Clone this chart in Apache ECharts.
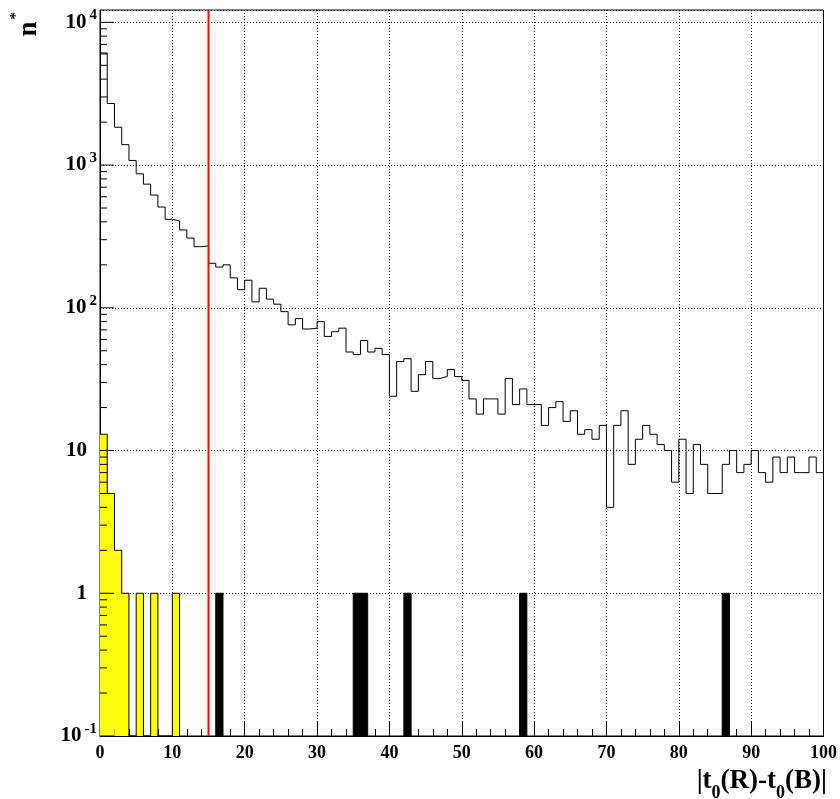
<!DOCTYPE html>
<html>
<head>
<meta charset="utf-8">
<script src="https://cdn.jsdelivr.net/npm/echarts@6.0.0/dist/echarts.min.js"></script>
<style>
html,body{margin:0;padding:0;background:#fff;}
#chart{width:840px;height:799px;}
</style>
</head>
<body>
<div id="chart"></div>
<script>
// ---- data (bins of width 1 from 0 to 100) ----
const allCounts = [
  6100, 2700, 1840, 1390, 1077, 868, 735, 616, 508, 417,
  406, 351, 308, 268, 271, 205, 193, 200, 162, 134,
  156, 110, 137, 115, 106, 94, 76, 84, 71, 72,
  80, 63, 68, 72, 49, 47, 59, 49, 52, 47,
  24, 42, 44, 26, 34, 42, 32, 33, 37, 33,
  31, 23, 18, 23, 23, 18, 32, 21, 27, 21,
  21, 15, 20, 22, 16, 19, 13, 14, 12, 15,
  4, 15, 19, 8, 12, 15, 13, 11, 10, 6,
  12, 5, 11, 8, 5, 5, 8, 10, 7, 8,
  10, 7, 6, 9, 7, 9, 7, 7, 9, 7
];
const passCounts = [13, 5, 2, 1, 0, 1, 0, 1, 0, 0, 1];   // yellow, bins 0..10
const failBins   = [16, 35, 36, 42, 58, 86];              // black filled bins
const failCounts = [1, 1, 1, 1, 1, 1];
const cutValue   = 15;
const xTickValues = [0, 10, 20, 30, 40, 50, 60, 70, 80, 90, 100];
const yDecades    = [0.1, 1, 10, 100, 1000, 10000];
const yMinorMults = [2, 3, 4, 5, 6, 7, 8, 9];

const YMIN = 0.1, YMAX = 12200, BIN = 1;
const FONT = '"Liberation Serif", "Times New Roman", serif';

// derived plotting data
const stepData = allCounts.map((v, i) => [i * BIN, v]);
stepData.push([allCounts.length * BIN, allCounts[allCounts.length - 1]]);

const passFill = [];
passCounts.forEach((v, i) => { if (v > 0) passFill.push([i * BIN, v]); });
const passOutline = passCounts.map((v, i) => [i * BIN, v > 0 ? v : YMIN]);
passOutline.push([passCounts.length * BIN, YMIN]);

const failFill = failBins.map((b, k) => [b, failCounts[k]]);

const yMinor = [];
yDecades.forEach(d => yMinorMults.forEach(m => { const v = d * m; if (v < YMAX) yMinor.push([0, v]); }));
const yMajor = yDecades.map(v => [0, v]);

function rectRender(color, stroke) {
  return function (params, api) {
    const x0 = api.value(0), v = api.value(1);
    const a = api.coord([x0, v]);
    const b = api.coord([x0 + BIN, YMIN]);
    return { type: 'rect', shape: { x: a[0], y: a[1], width: b[0] - a[0], height: b[1] - a[1] },
             style: stroke ? { fill: color, stroke: color, lineWidth: 1 } : { fill: color } };
  };
}
function tickRender(len) {
  return function (params, api) {
    const p = api.coord([api.value(0), api.value(1)]);
    return { type: 'line', shape: { x1: p[0], y1: p[1], x2: p[0] + len, y2: p[1] },
             style: { stroke: '#000', lineWidth: 1 } };
  };
}

const chart = echarts.init(document.getElementById('chart'), null, { renderer: 'canvas' });
chart.setOption({
  animation: false,
  backgroundColor: '#fff',
  grid: { left: 100, right: 13.5, top: 10, bottom: 63, show: true, borderColor: '#000', borderWidth: 1, backgroundColor: 'transparent' },
  xAxis: {
    type: 'value', min: xTickValues[0], max: xTickValues[xTickValues.length - 1], interval: xTickValues[1] - xTickValues[0],
    axisLine: { show: true, lineStyle: { color: '#000', width: 1 } },
    axisTick: { show: true, inside: true, length: 14, lineStyle: { color: '#000' } },
    minorTick: { show: true, splitNumber: 5, length: 7, lineStyle: { color: '#000' } },
    splitLine: { show: true, lineStyle: { color: '#000', type: [1, 2], width: 1 } },
    axisLabel: { color: '#000', fontFamily: FONT, fontWeight: 'bold', fontSize: 18, margin: 8 }
  },
  yAxis: {
    type: 'log', logBase: 10, min: YMIN, max: YMAX,
    axisLine: { show: true, lineStyle: { color: '#000', width: 1 } },
    axisTick: { show: false },
    splitLine: { show: true, lineStyle: { color: '#000', type: [1, 2], width: 1 } },
    axisLabel: {
      color: '#000', fontFamily: FONT, fontWeight: 'bold', fontSize: 21, margin: 3,
      formatter: function (v) {
        const e = Math.round(Math.log10(v));
        if (Math.abs(Math.log10(v) - e) > 1e-6) return '';
        if (e === 0) return '1{pad|}';
        if (e === 1) return '10{pad|}';
        return '10{sup|' + e + '}';
      },
      rich: {
        sup: { fontFamily: FONT, fontWeight: 'bold', fontSize: 15, lineHeight: 15, padding: [0, 0, 14, 3], color: '#000' },
        pad: { width: 10 }
      }
    }
  },
  graphic: [
    {
      type: 'text', right: 13, top: 760, silent: true,
      style: {
        text: '|t{sub|0}(R)-t{sub|0}(B)|',
        fontFamily: FONT, fontWeight: 'bold', fontSize: 27, fill: '#000',
        rich: {
          sub: { fontFamily: FONT, fontWeight: 'bold', fontSize: 18, lineHeight: 18, padding: [24, 0, 0, 0], fill: '#000' }
        }
      }
    },
    {
      type: 'text', x: 29, y: 12, rotation: Math.PI / 2, silent: true,
      style: {
        text: 'n{sup|*}', align: 'right', verticalAlign: 'middle',
        fontFamily: FONT, fontWeight: 'bold', fontSize: 27, fill: '#000',
        rich: {
          sup: { fontFamily: FONT, fontWeight: 'bold', fontSize: 15, lineHeight: 15, padding: [0, 0, 25, 2], fill: '#000' }
        }
      }
    }
  ],
  series: [
    { type: 'custom', name: 'pass', z: 2, silent: true, renderItem: rectRender('#ffff00', false), data: passFill, encode: { x: 0, y: 1 } },
    { type: 'line', name: 'passOutline', z: 3, silent: true, step: 'end', symbol: 'none', data: passOutline,
      lineStyle: { color: '#000', width: 1 } },
    { type: 'custom', name: 'fail', z: 3, silent: true, renderItem: rectRender('#000000', true), data: failFill, encode: { x: 0, y: 1 } },
    { type: 'line', name: 'all', z: 4, silent: true, step: 'end', symbol: 'none', data: stepData,
      lineStyle: { color: '#000', width: 1 } },
    { type: 'custom', name: 'cut', z: 5, silent: true, data: [[cutValue, YMIN]], encode: { x: 0, y: 1 },
      renderItem: function (params, api) {
        const a = api.coord([api.value(0), YMIN]);
        const b = api.coord([api.value(0), YMAX]);
        return { type: 'line', shape: { x1: a[0], y1: a[1], x2: b[0], y2: b[1] }, style: { stroke: '#ff0000', lineWidth: 2 } };
      } },
    { type: 'custom', name: 'yMinorTicks', z: 6, silent: true, data: yMinor, encode: { x: 0, y: 1 }, renderItem: tickRender(7) },
    { type: 'custom', name: 'yMajorTicks', z: 6, silent: true, data: yMajor, encode: { x: 0, y: 1 }, renderItem: tickRender(14) }
  ]
});
</script>
</body>
</html>
